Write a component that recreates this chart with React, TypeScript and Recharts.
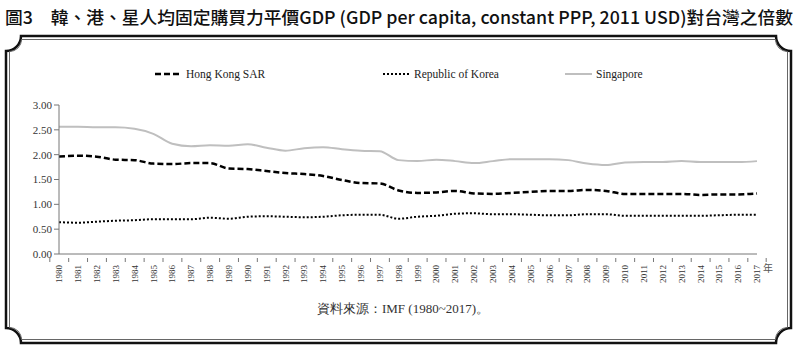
import { LineChart, Line, XAxis, YAxis, Legend } from "recharts";

const years = [
  "1980", "1981", "1982", "1983", "1984", "1985", "1986", "1987", "1988", "1989",
  "1990", "1991", "1992", "1993", "1994", "1995", "1996", "1997", "1998", "1999",
  "2000", "2001", "2002", "2003", "2004", "2005", "2006", "2007", "2008", "2009",
  "2010", "2011", "2012", "2013", "2014", "2015", "2016", "2017",
];

const hongKong = [
  1.96, 1.98, 1.96, 1.9, 1.89, 1.82, 1.81, 1.83, 1.83, 1.72,
  1.71, 1.67, 1.63, 1.61, 1.57, 1.49, 1.43, 1.42, 1.28, 1.23,
  1.24, 1.27, 1.22, 1.21, 1.23, 1.25, 1.27, 1.27, 1.29, 1.27,
  1.21, 1.21, 1.21, 1.21, 1.19, 1.2, 1.2, 1.22,
];

const korea = [
  0.64, 0.63, 0.65, 0.67, 0.68, 0.7, 0.7, 0.7, 0.73, 0.71,
  0.75, 0.76, 0.75, 0.74, 0.75, 0.78, 0.79, 0.79, 0.71, 0.75,
  0.77, 0.81, 0.82, 0.8, 0.8, 0.79, 0.78, 0.78, 0.8, 0.8,
  0.77, 0.77, 0.77, 0.77, 0.77, 0.78, 0.79, 0.79,
];

const singapore = [
  2.56, 2.56, 2.55, 2.55, 2.52, 2.42, 2.22, 2.17, 2.19, 2.18,
  2.21, 2.14, 2.08, 2.13, 2.15, 2.11, 2.08, 2.07, 1.89, 1.87,
  1.9, 1.87, 1.83, 1.87, 1.91, 1.91, 1.91, 1.89, 1.82, 1.79,
  1.84, 1.85, 1.85, 1.87, 1.85, 1.85, 1.85, 1.87,
];

const yTicks = [0, 0.5, 1, 1.5, 2, 2.5, 3];

const title = "圖3　韓、港、星人均固定購買力平價GDP (GDP per capita, constant PPP, 2011 USD)對台灣之倍數";
const source = "資料來源：IMF (1980~2017)。";

const data = years.map((y, i) => ({
  year: y,
  hk: hongKong[i],
  kr: korea[i],
  sg: singapore[i],
}));

const W = 800;
const H = 360;
const PLOT_LEFT = 59;
const PLOT_RIGHT = 757;
const BAND = (PLOT_RIGHT - PLOT_LEFT) / years.length;
const AXIS_COLOR = "#777";
const SERIF = "'Liberation Serif', 'Times New Roman', serif";

// ticket-style frame with notched corners
function framePath(x0: number, y0: number, x1: number, y1: number, r: number) {
  return [
    `M ${x0 + r} ${y0}`,
    `L ${x1 - r} ${y0}`,
    `A ${r} ${r} 0 0 0 ${x1} ${y0 + r}`,
    `L ${x1} ${y1 - r}`,
    `A ${r} ${r} 0 0 0 ${x1 - r} ${y1}`,
    `L ${x0 + r} ${y1}`,
    `A ${r} ${r} 0 0 0 ${x0} ${y1 - r}`,
    `L ${x0} ${y0 + r}`,
    `A ${r} ${r} 0 0 0 ${x0 + r} ${y0}`,
    "Z",
  ].join(" ");
}

const YearTick = (props: any) => {
  const { x, y, payload, index } = props;
  const last = index === years.length - 1;
  return (
    <g>
      <line x1={x - BAND / 2} y1={y - 4} x2={x - BAND / 2} y2={y} stroke={AXIS_COLOR} />
      {last && <line x1={x + BAND / 2} y1={y - 4} x2={x + BAND / 2} y2={y} stroke={AXIS_COLOR} />}
      <text
        transform={`translate(${x + 3.2},${y + 3}) rotate(-90)`}
        textAnchor="end"
        fontSize={9}
        fontFamily={SERIF}
        fill="#333"
      >
        {payload.value}
      </text>
    </g>
  );
};

const renderLegend = () => {
  const items = [
    { label: "Hong Kong SAR", x: 155, dash: "6 3", color: "#000", w: 2.5 },
    { label: "Republic of Korea", x: 383, dash: "2 2", color: "#000", w: 2 },
    { label: "Singapore", x: 565, dash: undefined, color: "#bfbfbf", w: 2 },
  ];
  return (
    <svg width={W} height={16} style={{ display: "block" }}>
      {items.map((it) => (
        <g key={it.label}>
          <line x1={it.x} y1={8} x2={it.x + 27} y2={8} stroke={it.color} strokeWidth={it.w} strokeDasharray={it.dash} />
          <text x={it.x + 31} y={12} fontSize={11.5} fontFamily={SERIF} fill="#222">
            {it.label}
          </text>
        </g>
      ))}
    </svg>
  );
};

export default function App() {
  return (
    <div style={{ position: "absolute", left: 0, top: 0, width: W, height: H, background: "#fff" }}>
      <svg width={W} height={H} style={{ position: "absolute", left: 0, top: 0 }}>
        <text
          x={5}
          y={24}
          fontSize={17.5}
          fontWeight={500}
          fontFamily="'Noto Sans CJK TC', 'Liberation Sans', sans-serif"
          fill="#111"
          textLength={788}
          lengthAdjust="spacingAndGlyphs"
        >
          {title}
        </text>
        <path d={framePath(6, 36, 791, 343, 15)} fill="none" stroke="#111" strokeWidth={2.5} />
        <path d={framePath(9.5, 39.5, 787.5, 339.5, 12)} fill="none" stroke="#666" strokeWidth={1} />
        <text x={403} y={313} textAnchor="middle" fontSize={13} fontFamily={SERIF} fill="#333">
          {source}
        </text>
        <text x={763} y={272} fontSize={10} fontFamily="'Noto Sans CJK TC', sans-serif" fill="#555">
          年
        </text>
      </svg>
      <div style={{ position: "absolute", left: 0, top: 0 }}>
        <LineChart width={W} height={H} data={data} margin={{ top: 89, right: W - PLOT_RIGHT, bottom: 76, left: 0 }}>
          <Legend verticalAlign="top" content={renderLegend} wrapperStyle={{ top: 66, left: 0, width: W }} />
          <XAxis
            dataKey="year"
            height={30}
            interval={0}
            stroke={AXIS_COLOR}
            tickLine={false}
            tick={<YearTick />}
          />
          <YAxis
            width={PLOT_LEFT}
            domain={[0, 3]}
            ticks={yTicks}
            tickFormatter={(v: number) => v.toFixed(2)}
            stroke={AXIS_COLOR}
            tickSize={5}
            tick={{ fontSize: 11, fontFamily: SERIF, fill: "#333" }}
          />
          <Line
            type="monotone"
            dataKey="sg"
            name="Singapore"
            stroke="#bfbfbf"
            strokeWidth={2}
            dot={false}
            isAnimationActive={false}
          />
          <Line
            type="monotone"
            dataKey="hk"
            name="Hong Kong SAR"
            stroke="#000"
            strokeWidth={2.5}
            strokeDasharray="6 3"
            dot={false}
            isAnimationActive={false}
          />
          <Line
            type="monotone"
            dataKey="kr"
            name="Republic of Korea"
            stroke="#000"
            strokeWidth={2}
            strokeDasharray="2 2"
            dot={false}
            isAnimationActive={false}
          />
        </LineChart>
      </div>
    </div>
  );
}
